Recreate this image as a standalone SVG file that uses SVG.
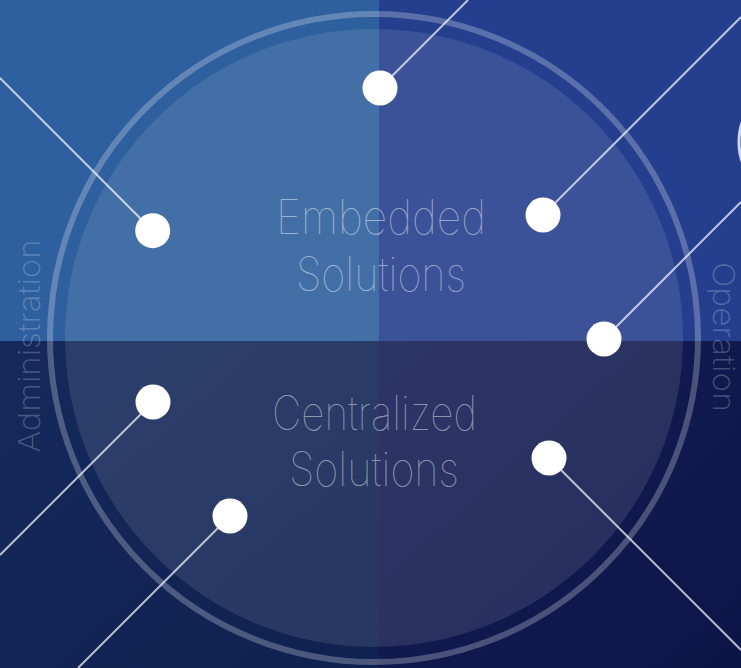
<svg xmlns="http://www.w3.org/2000/svg" width="741" height="668" viewBox="0 0 741 668">
  <style>
    .dot { fill: #ffffff; }
    .conn { stroke: #ffffff; stroke-opacity: 0.7; stroke-width: 2; fill: none; }
    .big { font-family: Inter, Roboto, "Liberation Sans", sans-serif; font-weight: 100; font-size: 47px; fill: #ffffff; fill-opacity: 0.48; text-anchor: middle; }
    .side { font-family: Inter, Roboto, "Liberation Sans", sans-serif; font-weight: 200; font-size: 30px; fill: #ffffff; fill-opacity: 0.24; text-anchor: middle; }
  </style>
  <defs>
    <linearGradient id="gBL" x1="0" y1="0" x2="1" y2="1">
      <stop offset="0" stop-color="#15295c"/>
      <stop offset="1" stop-color="#0f2150"/>
    </linearGradient>
    <linearGradient id="gBR" x1="0" y1="0" x2="1" y2="1">
      <stop offset="0" stop-color="#151f56"/>
      <stop offset="1" stop-color="#0c1548"/>
    </linearGradient>
  </defs>

  <g id="background">
    <rect x="0" y="0" width="379" height="341" fill="#2e5f9e"/>
    <rect x="379" y="0" width="362" height="341" fill="#253f8e"/>
    <rect x="0" y="341" width="379" height="327" fill="url(#gBL)"/>
    <rect x="379" y="341" width="362" height="327" fill="url(#gBR)"/>
  </g>

  <g id="wheel">
    <circle cx="374" cy="338" r="324" fill="none" stroke="#ffffff" stroke-opacity="0.25" stroke-width="6"/>
    <circle cx="374" cy="338" r="309" fill="#ffffff" fill-opacity="0.1"/>
  </g>

  <g id="edge-arc">
    <circle cx="799" cy="142" r="60" fill="none" stroke="#ffffff" stroke-opacity="0.8" stroke-width="3"/>
  </g>

  <g id="labels">
    <g id="embedded">
      <text class="big" x="381" y="234" textLength="210" lengthAdjust="spacingAndGlyphs">Embedded</text>
      <text class="big" x="381" y="291" textLength="170" lengthAdjust="spacingAndGlyphs">Solutions</text>
    </g>
    <g id="centralized">
      <text class="big" x="374.5" y="430" textLength="205" lengthAdjust="spacingAndGlyphs">Centralized</text>
      <text class="big" x="374" y="486" textLength="170" lengthAdjust="spacingAndGlyphs">Solutions</text>
    </g>
    <g id="administration">
      <text class="side" transform="translate(40 346) rotate(-90)" x="0" y="0" textLength="213" lengthAdjust="spacingAndGlyphs">Administration</text>
    </g>
    <g id="operation">
      <text class="side" transform="translate(713 337) rotate(90)" x="0" y="0" textLength="150" lengthAdjust="spacingAndGlyphs">Operation</text>
    </g>
  </g>

  <g id="connectors">
    <line class="conn" x1="380" y1="88" x2="468" y2="0"/>
    <line class="conn" x1="152.7" y1="230.7" x2="0" y2="78"/>
    <line class="conn" x1="543" y1="215" x2="741" y2="17"/>
    <line class="conn" x1="604" y1="339" x2="741" y2="202"/>
    <line class="conn" x1="153" y1="402" x2="0" y2="555"/>
    <line class="conn" x1="230" y1="516" x2="78" y2="668"/>
    <line class="conn" x1="549" y1="458" x2="741" y2="650"/>
  </g>

  <g id="node-1"><circle class="dot" cx="380" cy="88" r="17.5"/></g>
  <g id="node-2"><circle class="dot" cx="152.7" cy="230.7" r="17.5"/></g>
  <g id="node-3"><circle class="dot" cx="543" cy="215" r="17.5"/></g>
  <g id="node-4"><circle class="dot" cx="604" cy="339" r="17.5"/></g>
  <g id="node-5"><circle class="dot" cx="153" cy="402" r="17.5"/></g>
  <g id="node-6"><circle class="dot" cx="230" cy="516" r="17.5"/></g>
  <g id="node-7"><circle class="dot" cx="549" cy="458" r="17.5"/></g>
</svg>
